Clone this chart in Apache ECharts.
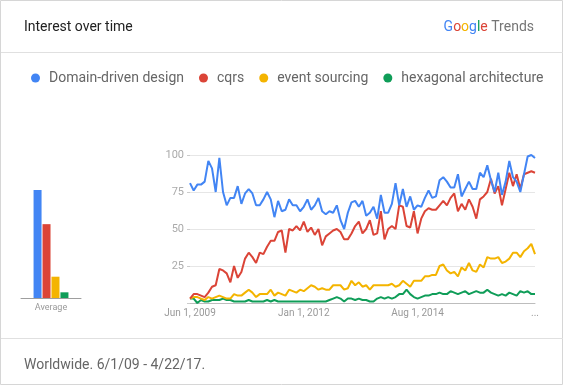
<!DOCTYPE html>
<html><head><meta charset="utf-8">
<script src="https://cdn.jsdelivr.net/npm/echarts@6/dist/echarts.min.js"></script>
<style>html,body{margin:0;padding:0;background:#fff}#c{width:564px;height:386px}</style>
</head><body><div id="c"></div>
<script>
var seriesNames = ['Domain-driven design','cqrs','event sourcing','hexagonal architecture'];
var colors = ['#4285f4','#db4437','#f4b400','#0f9d58'];
var tickLabels = {0:'Jun 1, 2009', 31:'Jan 1, 2012', 62:'Aug 1, 2014', 94:'...'};
var yTicks = [25,50,75,100];
var ddd = [81,76,80,80,82,96,91,75,98,75,66,71,71,79,67,74,77,74,66,66,70,75,70,58,69,62,63,70,
  66,66,62,65,70,63,66,71,62,60,62,61,66,56,50,61,68,69,65,69,59,61,65,57,73,61,61,67,81,66,
  77,65,72,63,66,65,71,76,71,72,83,85,82,78,78,87,72,77,82,77,77,88,85,93,83,75,88,73,82,96,85,82,75,87,99,100,98];
var cqrs = [3,6,6,5,4,7,11,12,23,22,20,14,25,17,21,30,34,31,27,34,33,38,42,42,48,49,34,50,
  49,52,49,55,48,51,46,50,39,45,47,49,50,48,43,43,47,52,55,47,50,56,46,47,62,43,50,52,50,66,
  65,52,51,62,47,57,62,64,63,63,66,69,66,71,74,62,67,63,70,65,57,70,72,75,84,74,79,66,77,88,79,87,77,87,88,89,88];
var es = [3,4,4,3,2,4,3,4,5,4,3,3,6,5,5,7,9,7,4,6,6,6,9,5,7,6,5,9,
  8,7,9,8,10,12,11,9,10,9,9,12,12,12,9,10,15,12,14,11,12,9,12,12,12,12,12,13,11,12,
  15,13,11,15,15,15,18,18,19,19,25,26,22,20,21,18,24,22,27,22,21,26,24,31,30,30,31,27,28,30,34,34,31,35,37,40,33];
var hex = [3,3,0,2,1,1,2,2,2,3,2,2,1,1,1,1,2,1,1,1,1,2,1,2,1,1,1,1,
  1,1,1,1,1,1,1,1,1,1,2,3,4,3,1,3,3,2,3,2,2,1,1,3,4,3,4,3,4,6,
  6,9,6,4,3,4,5,5,6,6,7,6,6,8,7,6,7,8,6,7,8,7,7,9,7,6,5,6,5,7,6,5,8,7,8,6,6];
var averages = [76,52,15,4];
var months = ddd.map(function(_,i){return i;});
var lineData = [ddd,cqrs,es,hex];

var chart = echarts.init(document.getElementById('c'));
var F = 'Roboto, sans-serif';
var series = [];
lineData.forEach(function(d,k){
  series.push({type:'line', name:seriesNames[k], xAxisIndex:1, yAxisIndex:1, data:d,
    showSymbol:false, lineStyle:{width:2, color:colors[k]}, itemStyle:{color:colors[k]}, z:10-k, animation:false});
});
averages.forEach(function(v,k){
  series.push({type:'bar', name:seriesNames[k], xAxisIndex:0, yAxisIndex:0, data:[v],
    barWidth:8, barGap:'12%', itemStyle:{color:colors[k]}, animation:false});
});
chart.setOption({
  animation:false,
  textStyle:{fontFamily:F},
  graphic:[
    {type:'rect', shape:{x:0.5,y:0.5,width:562,height:384}, style:{fill:'none', stroke:'#d6d6d6', lineWidth:1}},
    {type:'line', shape:{x1:1,y1:52.5,x2:563,y2:52.5}, style:{stroke:'#e0e0e0', lineWidth:1}},
    {type:'line', shape:{x1:1,y1:338.5,x2:563,y2:338.5}, style:{stroke:'#e0e0e0', lineWidth:1}},
    {type:'text', left:24, top:20, style:{text:'Interest over time', fill:'#222', font:'14px '+F}},
    {type:'text', right:30, top:20, style:{
      text:'{b|G}{r|o}{y|o}{b|g}{g|l}{r|e} {t|Trends}', font:'14px '+F,
      rich:{b:{fill:'#4285f4',font:'14px '+F},r:{fill:'#db4437',font:'14px '+F},y:{fill:'#f4b400',font:'14px '+F},g:{fill:'#0f9d58',font:'14px '+F},t:{fill:'#757575',font:'14px '+F}}}},
    {type:'text', left:24, top:358, style:{text:'Worldwide. 6/1/09 - 4/22/17.', fill:'#666', font:'14px '+F}}
  ],
  legend:{data:seriesNames, left:26, top:66, icon:'circle', itemWidth:9, itemHeight:9, itemGap:15,
    textStyle:{color:'#666', fontSize:14, fontFamily:F, padding:[0,0,0,4]}},
  grid:[
    {left:21, width:60, top:156, bottom:88},
    {left:190, right:29, top:155, bottom:83}
  ],
  xAxis:[
    {gridIndex:0, type:'category', data:['Average'], axisLine:{lineStyle:{color:'#9e9e9e'}}, axisTick:{show:false},
      axisLabel:{color:'#999', fontSize:9, margin:5, fontFamily:F}},
    {gridIndex:1, type:'category', data:months, boundaryGap:false,
      axisLine:{lineStyle:{color:'#bdbdbd'}}, axisTick:{show:false},
      axisLabel:{color:'#999', fontSize:10, margin:5, fontFamily:F,
        interval:function(i){return tickLabels[i]!==undefined;},
        formatter:function(v,i){return tickLabels[i]||'';}}}
  ],
  yAxis:[
    {gridIndex:0, type:'value', min:0, max:100, show:false},
    {gridIndex:1, type:'value', min:0, max:100, interval:25,
      axisLine:{show:false}, axisTick:{show:true, length:3, lineStyle:{color:'#ccc'}},
      axisLabel:{color:'#aaa', fontSize:11, margin:6, fontFamily:F, formatter:function(v){return yTicks.indexOf(v)>=0?v:'';}},
      splitLine:{lineStyle:{color:'#e6e6e6'}}}
  ],
  series:series
});
</script></body></html>
